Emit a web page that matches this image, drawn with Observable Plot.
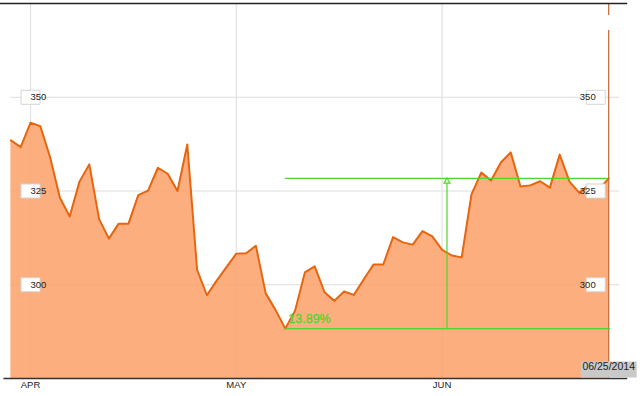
<!DOCTYPE html>
<html>
<head>
<meta charset="utf-8">
<script src="https://cdn.jsdelivr.net/npm/d3@7"></script>
<script src="https://cdn.jsdelivr.net/npm/@observablehq/plot@0.6"></script>
<style>
  html, body { margin: 0; padding: 0; background: #fff; }
  svg { display: block; }
</style>
</head>
<body>
<div id="chart"></div>
<script>
// Daily closes, one per trading day from 03/28/2014 to 06/25/2014
const closes = [
  338.5, 336.7, 343.2, 342.3, 334.0, 323.2, 318.2, 327.5, 332.1, 317.5,
  312.3, 316.3, 316.3, 323.9, 325.1, 331.2, 329.6, 325.0, 337.4, 304.0,
  297.2, 301.1, 304.7, 308.3, 308.4, 310.4, 297.7, 293.3, 288.3, 293.1,
  303.3, 304.9, 298.0, 295.7, 298.2, 297.3, 301.4, 305.4, 305.4, 312.7,
  311.3, 310.7, 314.3, 312.9, 309.3, 307.8, 307.3, 324.1, 329.9, 327.8,
  332.6, 335.3, 326.2, 326.5, 327.6, 325.9, 334.7, 327.5, 324.5, 326.7,
  325.4, 328.35
];
const monthTicks = [2, 23, 44];          // trading-day index of first day of month
const monthLabels = ["APR", "MAY", "JUN"];
const priceTicks = [300, 325, 350];
const yDomain = [275, 375];
const lastDateLabel = "06/25/2014";

const data = closes.map((v, i) => ({i, v}));
const lastIdx = closes.length - 1;
const minIdx = d3.minIndex(closes);
const minV = closes[minIdx];
const lastV = closes[lastIdx];
const midIdx = (minIdx + lastIdx) / 2;
const pct = (lastV / minV - 1) * 100;

const green = "#4fd62a";
const lineColor = "#e8650f";

const box = (w, h) => ({draw(ctx) { ctx.rect(-w / 2, -h / 2, w, h); }});

const chart = Plot.plot({
  width: 642,
  height: 396,
  marginLeft: 10.4,
  marginRight: 33.8,
  marginTop: 3,
  marginBottom: 18,
  x: {domain: [0, lastIdx], axis: null},
  y: {domain: yDomain, axis: null},
  style: {fontFamily: "'Liberation Sans', Arial, sans-serif", background: "white"},
  marks: [
    Plot.ruleY(priceTicks, {stroke: "#dddddd", strokeWidth: 1, insetRight: -11}),
    Plot.ruleX(monthTicks, {stroke: "#e2e2e2", strokeWidth: 1.2}),
    Plot.areaY(data, {x: "i", y1: () => yDomain[0], y2: "v", fill: "rgb(253,160,103)", fillOpacity: 0.85}),
    Plot.ruleX([lastIdx], {stroke: "#c4703e", strokeWidth: 1.3, insetTop: 27}),
    Plot.ruleX([lastIdx], {stroke: "#c4703e", strokeWidth: 1.3, insetBottom: 363}),
    Plot.lineY(data, {x: "i", y: "v", stroke: lineColor, strokeWidth: 2}),
    // top border and bottom axis
    Plot.ruleY([yDomain[1]], {stroke: "#222", strokeWidth: 1.6, insetLeft: -10.4, insetRight: -19}),
    Plot.ruleY([yDomain[0]], {stroke: "#333", strokeWidth: 1.5, insetLeft: -7, insetRight: -19}),
    // y labels (left & right)
    Plot.dot(priceTicks, {y: d => d, frameAnchor: "left", dx: 19.6, symbol: box(19, 14), fill: "white", stroke: "#d4d4d4", strokeWidth: 1}),
    Plot.text(priceTicks, {y: d => d, frameAnchor: "left", dx: 19.6, text: d => String(d), fontSize: 9.5, fill: "#222"}),
    Plot.dot(priceTicks, {y: d => d, frameAnchor: "right", dx: -13, symbol: box(19, 14), fill: "white", stroke: "#d4d4d4", strokeWidth: 1}),
    Plot.text(priceTicks, {y: d => d, frameAnchor: "right", dx: -13, text: d => String(d), fontSize: 9.5, fill: "#222"}),
    // x labels
    Plot.text(monthTicks, {x: d => d, frameAnchor: "bottom", dy: 6, text: (d, i) => monthLabels[i], fontSize: 9.5, fill: "#222", lineAnchor: "middle"}),
    // green measurement annotation
    Plot.ruleY([minV], {x1: minIdx, x2: lastIdx, stroke: green, strokeWidth: 1.2, insetRight: -2}),
    Plot.ruleY([lastV], {x1: minIdx, x2: lastIdx, stroke: green, strokeWidth: 1.2}),
    Plot.ruleX([midIdx], {y1: minV, y2: lastV, stroke: green, strokeWidth: 1.2}),
    Plot.dot([lastV], {x: midIdx, y: d => d, dy: 3, symbol: "triangle", r: 2.2, fill: "white", stroke: green, strokeWidth: 1.2}),
    Plot.text([pct], {x: minIdx, y: minV, dx: 3, dy: -10, text: d => d.toFixed(2) + "%", textAnchor: "start", fontSize: 12.5, fill: green, stroke: green, strokeWidth: 0.3}),
    // last date badge
    Plot.dot([lastIdx], {x: d => d, frameAnchor: "bottom", dy: -9, symbol: box(56, 16), fill: "#c9c9c9"}),
    Plot.text([lastIdx], {x: d => d, frameAnchor: "bottom", dy: -9, text: () => lastDateLabel, fontSize: 10.5, fill: "#222"})
  ]
});
document.getElementById("chart").appendChild(chart);
</script>
</body>
</html>
